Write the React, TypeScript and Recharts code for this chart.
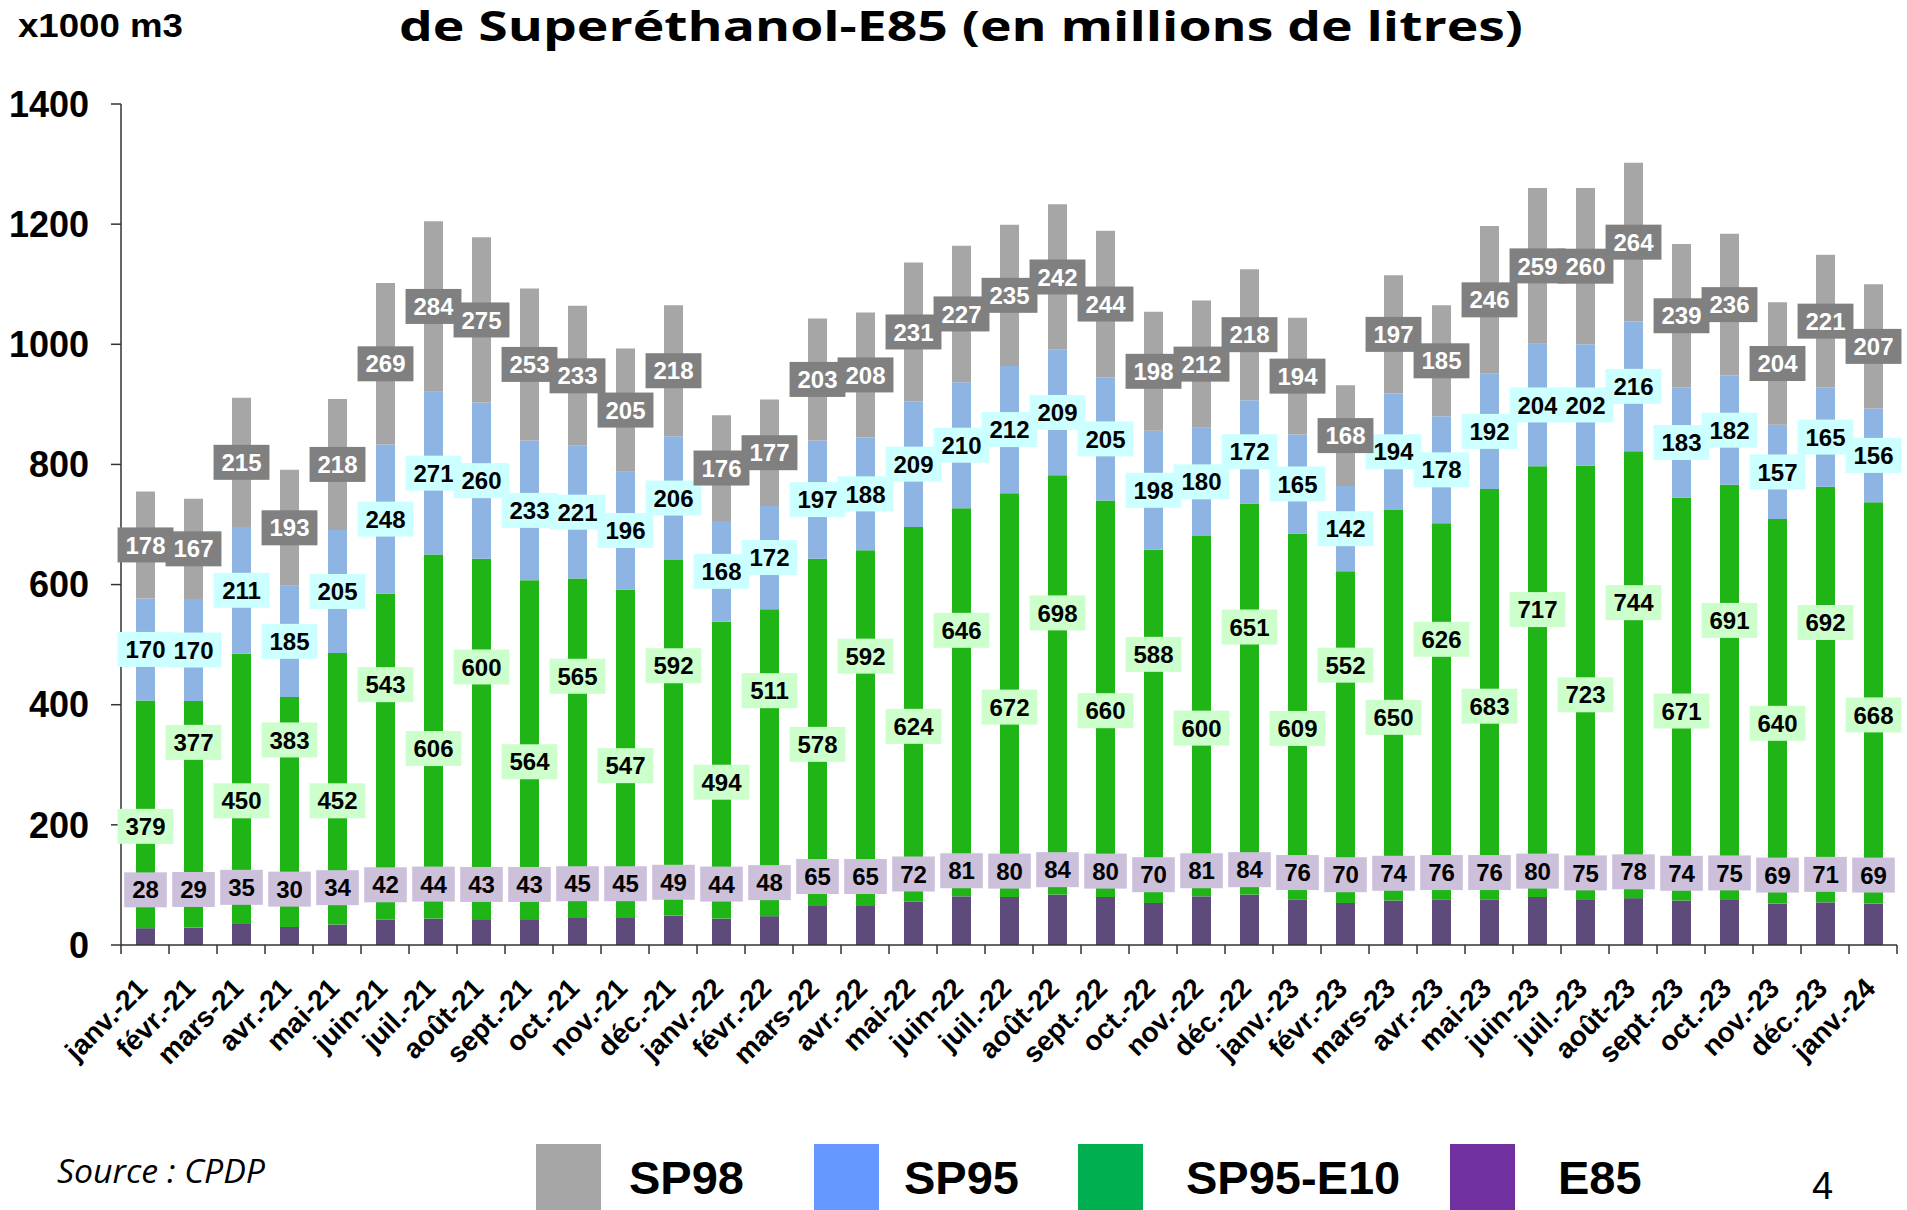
import React from "react";
import { BarChart, Bar, XAxis, YAxis, LabelList } from "recharts";

// ---- data ----
const MONTHS = [
  "janv.-21", "févr.-21", "mars-21", "avr.-21", "mai-21", "juin-21", "juil.-21", "août-21", "sept.-21", "oct.-21", "nov.-21", "déc.-21",
  "janv.-22", "févr.-22", "mars-22", "avr.-22", "mai-22", "juin-22", "juil.-22", "août-22", "sept.-22", "oct.-22", "nov.-22", "déc.-22",
  "janv.-23", "févr.-23", "mars-23", "avr.-23", "mai-23", "juin-23", "juil.-23", "août-23", "sept.-23", "oct.-23", "nov.-23", "déc.-23",
  "janv.-24",
];
const E85 = [28, 29, 35, 30, 34, 42, 44, 43, 43, 45, 45, 49, 44, 48, 65, 65, 72, 81, 80, 84, 80, 70, 81, 84, 76, 70, 74, 76, 76, 80, 75, 78, 74, 75, 69, 71, 69];
const SP95_E10 = [379, 377, 450, 383, 452, 543, 606, 600, 564, 565, 547, 592, 494, 511, 578, 592, 624, 646, 672, 698, 660, 588, 600, 651, 609, 552, 650, 626, 683, 717, 723, 744, 671, 691, 640, 692, 668];
const SP95 = [170, 170, 211, 185, 205, 248, 271, 260, 233, 221, 196, 206, 168, 172, 197, 188, 209, 210, 212, 209, 205, 198, 180, 172, 165, 142, 194, 178, 192, 204, 202, 216, 183, 182, 157, 165, 156];
const SP98 = [178, 167, 215, 193, 218, 269, 284, 275, 253, 233, 205, 218, 176, 177, 203, 208, 231, 227, 235, 242, 244, 198, 212, 218, 194, 168, 197, 185, 246, 259, 260, 264, 239, 236, 204, 221, 207];
const Y_TICKS = [0, 200, 400, 600, 800, 1000, 1200, 1400];
const LEGEND_NAMES = ["SP98", "SP95", "SP95-E10", "E85"];

const rows = MONTHS.map((m, i) => ({ month: m, E85: E85[i], E10: SP95_E10[i], SP95: SP95[i], SP98: SP98[i] }));

// ---- layout / style ----
const W = 1907;
const H = 1210;
const PLOT_TOP = 104;
const PLOT_BOTTOM = 945;
const PLOT_LEFT = 121;
const PLOT_RIGHT = 1897;
const BAND = (PLOT_RIGHT - PLOT_LEFT) / MONTHS.length;
const PX = (PLOT_BOTTOM - PLOT_TOP) / 1400;
const ARIAL = "'Liberation Sans', Arial, sans-serif";

const BAR_COLORS = { SP98: "#A6A6A6", SP95: "#8EB4E3", E10: "#1FB516", E85: "#5F4B7B" };
const LEGEND_COLORS = ["#A6A6A6", "#6699FF", "#00B050", "#7030A0"];
const LEGEND_SQ_X = [536, 814, 1078, 1450];
const LEGEND_TX_X = [629, 904, 1186, 1558];

type Placer = (y: number, h: number, v: number, i: number) => number;

function boxLabel(bg: string, fg: string, place: Placer) {
  return (props: any) => {
    const vb = props.viewBox || {};
    const x = props.x ?? vb.x;
    const y = props.y ?? vb.y;
    const w = props.width ?? vb.width;
    const h = props.height ?? vb.height;
    const v = props.value;
    const i = props.index ?? 0;
    if (v == null || x == null || y == null) return null;
    const cx = x + w / 2;
    const cy = place(y, h, Number(v), i);
    const txt = String(v);
    const bw = txt.length * 13.3 + 16;
    return (
      <g key={`lbl-${bg}-${i}`}>
        <rect x={cx - bw / 2} y={cy - 17.5} width={bw} height={35} fill={bg} />
        <text x={cx} y={cy} dy="0.36em" textAnchor="middle" fontSize={24} fontWeight={700} fontFamily={ARIAL} fill={fg}>
          {txt}
        </text>
      </g>
    );
  };
}

const centerPlace: Placer = (y, h) => y + h / 2;
const e10Place: Placer = (y, h, v, i) => y + h / 2 + (i % 2 ? -72 : 12);
// E85 label drawn from the E10 bar (so it sits on top of it); E85 segment lies just below the E10 rect
const e85Place: Placer = (y, h, v) => y + h + v * PX - (75 + 0.6 * v) * PX;

function MonthTick(props: any) {
  const { x, y, payload, index } = props;
  const isLast = index === MONTHS.length - 1;
  return (
    <g>
      <line x1={x - BAND / 2} x2={x - BAND / 2} y1={y} y2={y + 9} stroke="#333" strokeWidth={1.5} />
      {isLast && <line x1={x + BAND / 2} x2={x + BAND / 2} y1={y} y2={y + 9} stroke="#333" strokeWidth={1.5} />}
      <text
        x={x + 4}
        y={y + 45}
        textAnchor="end"
        transform={`rotate(-45, ${x + 4}, ${y + 45})`}
        fontSize={28}
        fontWeight={700}
        fontFamily={ARIAL}
        fill="#000"
      >
        {payload.value}
      </text>
    </g>
  );
}

export default function App() {
  return (
    <div style={{ position: "absolute", left: 0, top: 0, width: W, height: H, background: "#fff", overflow: "hidden" }}>
      <BarChart
        width={W}
        height={H}
        data={rows}
        margin={{ top: PLOT_TOP, right: W - PLOT_RIGHT, left: 0, bottom: H - PLOT_BOTTOM - 140 }}
        barSize={19}
      >
        <XAxis
          dataKey="month"
          interval={0}
          height={140}
          tickSize={0}
          tickMargin={0}
          tickLine={false}
          axisLine={{ stroke: "#333", strokeWidth: 1.5 }}
          tick={(p: any) => <MonthTick {...p} />}
        />
        <YAxis
          type="number"
          domain={[0, 1400]}
          ticks={Y_TICKS}
          interval={0}
          width={PLOT_LEFT}
          tickSize={10}
          tickMargin={22}
          axisLine={{ stroke: "#333", strokeWidth: 1.5 }}
          tickLine={{ stroke: "#333", strokeWidth: 1.5 }}
          tick={{ fontSize: 36, fontWeight: 700, fill: "#000", fontFamily: ARIAL }}
        />
        <Bar dataKey="E85" name="E85" stackId="s" fill={BAR_COLORS.E85} isAnimationActive={false} />
        <Bar dataKey="E10" name="SP95-E10" stackId="s" fill={BAR_COLORS.E10} isAnimationActive={false}>
          <LabelList dataKey="E10" content={boxLabel("#CCFFCC", "#000", e10Place)} />
          <LabelList dataKey="E85" content={boxLabel("#CCC0DA", "#000", e85Place)} />
        </Bar>
        <Bar dataKey="SP95" name="SP95" stackId="s" fill={BAR_COLORS.SP95} isAnimationActive={false}>
          <LabelList dataKey="SP95" content={boxLabel("#CCFFFF", "#000", centerPlace)} />
        </Bar>
        <Bar dataKey="SP98" name="SP98" stackId="s" fill={BAR_COLORS.SP98} isAnimationActive={false}>
          <LabelList dataKey="SP98" content={boxLabel("#808080", "#fff", centerPlace)} />
        </Bar>
      </BarChart>
      <svg width={W} height={H} style={{ position: "absolute", left: 0, top: 0, pointerEvents: "none" }}>
        <text x={961} y={41} textAnchor="middle" fontFamily="'Open Sans', sans-serif" fontWeight={700} fontSize={42} textLength={1124} lengthAdjust="spacingAndGlyphs" fill="#000">
          de Superéthanol-E85 (en millions de litres)
        </text>
        <text x={18} y={37} fontFamily={ARIAL} fontWeight={700} fontSize={33} textLength={165} lengthAdjust="spacingAndGlyphs" fill="#000">
          x1000 m3
        </text>
        <text x={57} y={1183} fontFamily="'Open Sans', sans-serif" fontStyle="italic" fontSize={33} textLength={208} lengthAdjust="spacingAndGlyphs" fill="#000">
          Source : CPDP
        </text>
        {LEGEND_NAMES.map((n, i) => (
          <g key={n}>
            <rect x={LEGEND_SQ_X[i]} y={1144} width={65} height={70} fill={LEGEND_COLORS[i]} />
            <text x={LEGEND_TX_X[i]} y={1194} fontFamily={ARIAL} fontWeight={700} fontSize={47} fill="#000">
              {n}
            </text>
          </g>
        ))}
        <text x={1812} y={1199} fontFamily={ARIAL} fontSize={38} fill="#000">
          4
        </text>
      </svg>
    </div>
  );
}
